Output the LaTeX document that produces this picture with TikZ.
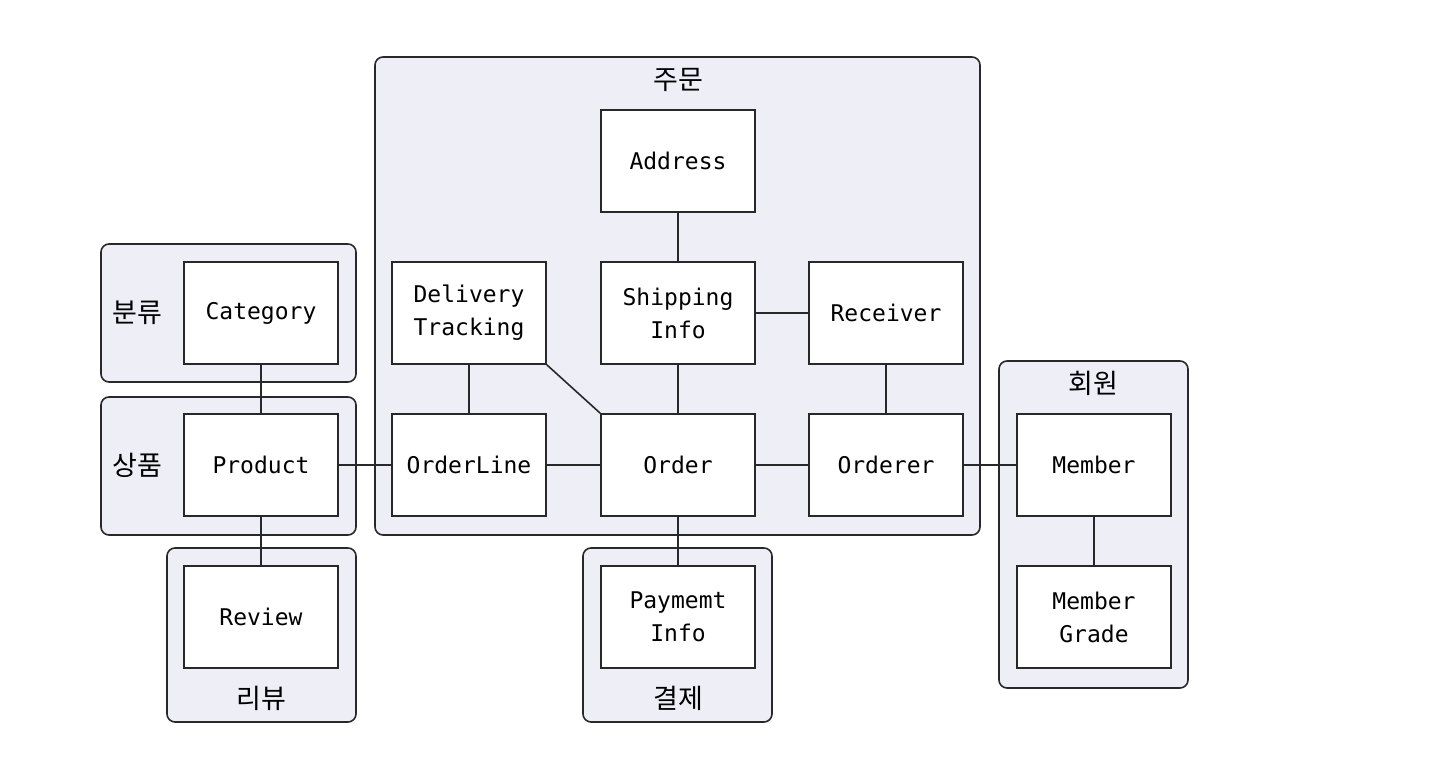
\documentclass[tikz,border=0pt]{standalone}
\usepackage{fontspec}
\setmonofont{DejaVu Sans Mono}
\newfontfamily\krfont{Noto Sans CJK KR}
\usetikzlibrary{positioning}
\definecolor{groupfill}{RGB}{238,238,247}
\definecolor{inkline}{RGB}{40,40,40}

\begin{document}
\begin{tikzpicture}[x=0.5pt,y=-0.5pt,
    entity/.style={draw=inkline,line width=0.8pt,fill=white,
      minimum width=77pt,minimum height=51pt,align=center,inner sep=0pt,
      font=\ttfamily\fontsize{11.5}{16.5}\selectfont},
    group/.style={draw=inkline,line width=0.8pt,fill=groupfill,rounded corners=4pt},
    grouplabel/.style={inner sep=0pt,font=\krfont\fontsize{13.5}{15}\selectfont},
    link/.style={draw=inkline,line width=0.8pt}]
  \useasboundingbox (0,0) rectangle (1430,760);
  % aggregate frames
  \draw[group] (375,57) rectangle (980,535);
  \draw[group] (101,244) rectangle (356,382);
  \draw[group] (101,397) rectangle (356,535);
  \draw[group] (167,548) rectangle (356,722);
  \draw[group] (583,548) rectangle (772,722);
  \draw[group] (999,361) rectangle (1188,688);
  % frame labels
  \node[grouplabel] (lblorder) at (678,80) {주문};
  \node[grouplabel] (lblcategory) at (137,313) {분류};
  \node[grouplabel] (lblproduct) at (137,465) {상품};
  \node[grouplabel] (lblreview) at (261,698) {리뷰};
  \node[grouplabel] (lblpayment) at (678,698) {결제};
  \node[grouplabel] (lblmember) at (1093,383) {회원};
  % entities
  \node[entity] (address) at (678,161) {Address};
  \node[entity] (delivery) at (469,313) {Delivery\\Tracking};
  \node[entity] (shipping) at (678,313) {Shipping\\Info};
  \node[entity] (receiver) at (886,313) {Receiver};
  \node[entity] (orderline) at (469,465) {OrderLine};
  \node[entity] (order) at (678,465) {Order};
  \node[entity] (orderer) at (886,465) {Orderer};
  \node[entity] (category) at (261,313) {Category};
  \node[entity] (product) at (261,465) {Product};
  \node[entity] (review) at (261,617) {Review};
  \node[entity] (payment) at (678,617) {Paymemt\\Info};
  \node[entity] (member) at (1094,465) {Member};
  \node[entity] (grade) at (1094,617) {Member\\Grade};
  % connectors
  \draw[link] (address) -- (shipping);
  \draw[link] (shipping) -- (receiver);
  \draw[link] (delivery) -- (orderline);
  \draw[link] (delivery.south east) -- (order.north west);
  \draw[link] (shipping) -- (order);
  \draw[link] (receiver) -- (orderer);
  \draw[link] (product) -- (orderline);
  \draw[link] (orderline) -- (order);
  \draw[link] (order) -- (orderer);
  \draw[link] (orderer) -- (member);
  \draw[link] (category) -- (product);
  \draw[link] (product) -- (review);
  \draw[link] (order) -- (payment);
  \draw[link] (member) -- (grade);
\end{tikzpicture}
\end{document}
